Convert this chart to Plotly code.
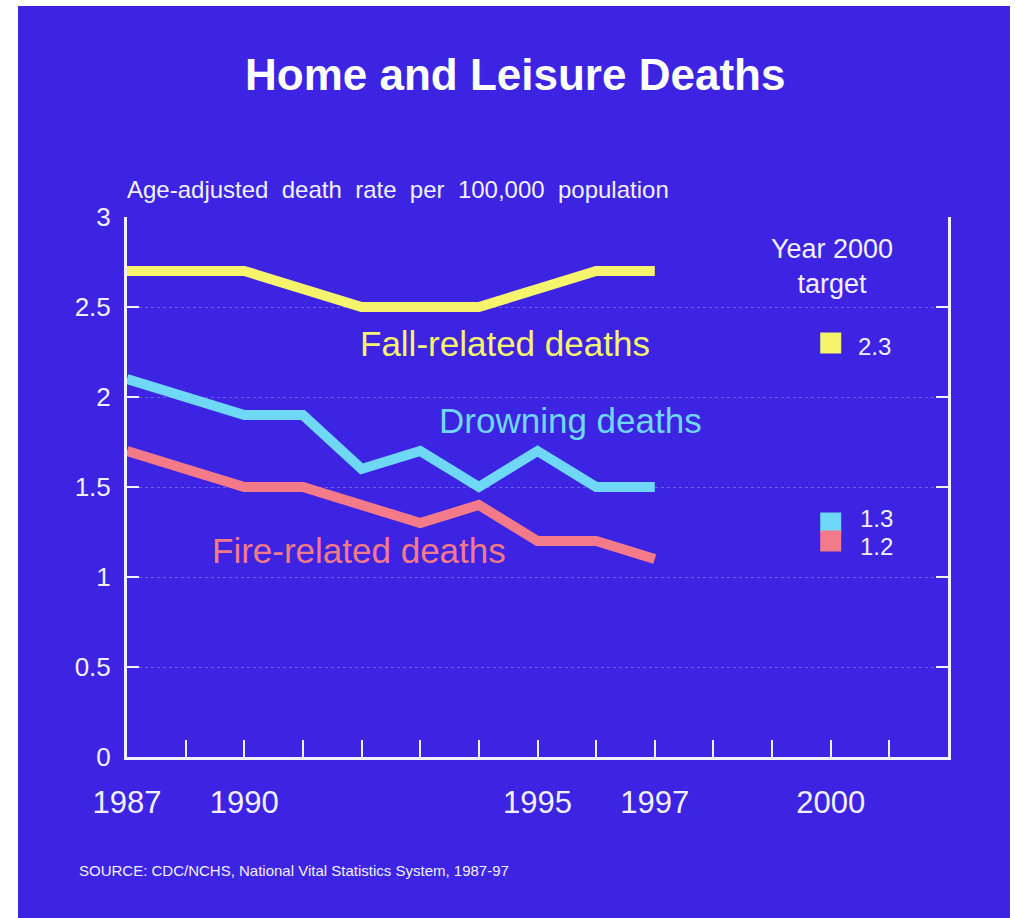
import plotly.graph_objects as go

# ---- data ----
axis_slots = ["1987", "1988-89", "1990", "1991", "1992", "1993", "1994", "1995",
              "1996", "1997", "1998", "1999", "2000", "2001", "2002"]
tick_labels = {"1987": "1987", "1990": "1990", "1995": "1995", "1997": "1997", "2000": "2000"}

years = ["1987", "1990", "1991", "1992", "1993", "1994", "1995", "1996", "1997"]
fall_deaths = [2.7, 2.7, 2.6, 2.5, 2.5, 2.5, 2.6, 2.7, 2.7]
drowning_deaths = [2.1, 1.9, 1.9, 1.6, 1.7, 1.5, 1.7, 1.5, 1.5]
fire_deaths = [1.7, 1.5, 1.5, 1.4, 1.3, 1.4, 1.2, 1.2, 1.1]

target_year = "2000"
target_fall = 2.3
target_drowning = 1.3
target_fire = 1.2

y_ticks = [0, 0.5, 1, 1.5, 2, 2.5, 3]
y_tick_labels = ["0", "0.5", "1", "1.5", "2", "2.5", "3"]

# ---- style ----
BLUE = "#3c24e2"
WHITE = "#f2f0ff"
YELLOW = "#f6f46c"
CYAN = "#6fd8f6"
SALMON = "#f37a88"
FONT = "Liberation Sans, Arial, sans-serif"

fig = go.Figure()

for vals, col in [(fall_deaths, YELLOW), (drowning_deaths, CYAN), (fire_deaths, SALMON)]:
    fig.add_trace(go.Scatter(x=years, y=vals, mode="lines",
                             line=dict(color=col, width=10, shape="linear"),
                             showlegend=False, hoverinfo="skip"))

for val, col in [(target_fall, YELLOW), (target_drowning, CYAN), (target_fire, SALMON)]:
    fig.add_trace(go.Scatter(x=[target_year], y=[val], mode="markers",
                             marker=dict(symbol="square", size=21, color=col,
                                         line=dict(width=0)),
                             showlegend=False, hoverinfo="skip"))

W, H = 1015, 918
L, R, T, B = 127, 67, 217, 161
pw, ph = W - L - R, H - T - B


def px(x):
    return (x - L) / pw


def py(y):
    return (H - B - y) / ph


fig.update_layout(
    width=W, height=H,
    margin=dict(l=L, r=R, t=T, b=B),
    paper_bgcolor="white",
    plot_bgcolor=BLUE,
    font=dict(family=FONT, color=WHITE),
    showlegend=False,
    shapes=[dict(type="rect", xref="paper", yref="paper",
                 x0=px(18), x1=px(1010), y0=py(930), y1=py(6),
                 fillcolor=BLUE, line=dict(width=0), layer="below")],
)

fig.update_xaxes(
    type="category", categoryorder="array", categoryarray=axis_slots,
    range=[0, len(axis_slots) - 1],
    tickmode="array", tickvals=axis_slots,
    ticktext=[tick_labels.get(s, "") for s in axis_slots],
    ticks="inside", ticklen=17, tickwidth=2, tickcolor=WHITE,
    showline=True, linewidth=3, linecolor=WHITE, mirror=False,
    showgrid=False, zeroline=False,
    tickfont=dict(family=FONT, size=31, color=WHITE),
    ticklabelstandoff=16,
)

fig.update_yaxes(
    range=[0, 3], tickmode="array", tickvals=y_ticks, ticktext=y_tick_labels,
    ticks="inside", ticklen=12, tickwidth=2, tickcolor=WHITE,
    showline=True, linewidth=3, linecolor=WHITE, mirror="ticks",
    showgrid=True, gridcolor="rgba(255,255,255,0.25)", gridwidth=1, griddash="dot",
    zeroline=False,
    tickfont=dict(family=FONT, size=26, color=WHITE),
    ticklabelstandoff=8,
)

nb = "\u00a0"
ann = [
    dict(text="<b>Home and Leisure Deaths</b>", x=px(515), y=py(75),
         font=dict(size=44, color="white"), xanchor="center", yanchor="middle"),
    dict(text=f"Age-adjusted{nb}{nb}death{nb}{nb}rate{nb}{nb}per{nb}{nb}100,000{nb}{nb}population",
         x=px(125), y=py(190), font=dict(size=24, color=WHITE), xanchor="left", yanchor="middle"),
    dict(text="Year 2000<br>target", x=px(832), y=py(266),
         font=dict(size=27, color=WHITE), xanchor="center", yanchor="middle"),
    dict(text="2.3", x=px(856), y=py(346), font=dict(size=24, color=WHITE),
         xanchor="left", yanchor="middle"),
    dict(text="1.3", x=px(858), y=py(518), font=dict(size=24, color=WHITE),
         xanchor="left", yanchor="middle"),
    dict(text="1.2", x=px(858), y=py(546), font=dict(size=24, color=WHITE),
         xanchor="left", yanchor="middle"),
    dict(text="Fall-related deaths", x=px(505), y=py(343), font=dict(size=35, color=YELLOW),
         xanchor="center", yanchor="middle"),
    dict(text="Drowning deaths", x=px(570), y=py(420), font=dict(size=35, color=CYAN),
         xanchor="center", yanchor="middle"),
    dict(text="Fire-related deaths", x=px(359), y=py(550), font=dict(size=35, color=SALMON),
         xanchor="center", yanchor="middle"),
    dict(text="SOURCE: CDC/NCHS, National Vital Statistics System, 1987-97",
         x=px(77), y=py(870), font=dict(size=15, color=WHITE), xanchor="left", yanchor="middle"),
]
for a in ann:
    a.update(xref="paper", yref="paper", showarrow=False)
fig.update_layout(annotations=ann)

fig.write_html("out.html",
               config={"displayModeBar": False},
               post_script="document.body.style.margin='0';document.body.style.overflow='hidden';")
